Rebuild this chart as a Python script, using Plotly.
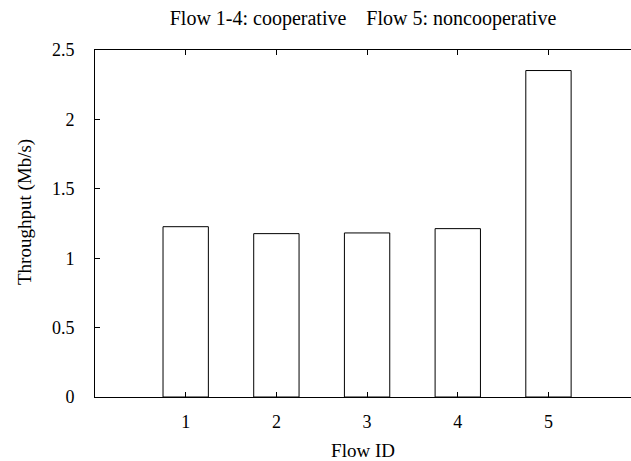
import plotly.graph_objects as go

flow_ids = [1, 2, 3, 4, 5]
throughput = [1.227, 1.177, 1.182, 1.213, 2.352]
x_ticks = [1, 2, 3, 4, 5]
y_ticks = [0, 0.5, 1, 1.5, 2, 2.5]
y_tick_labels = ["0", "0.5", "1", "1.5", "2", "2.5"]

serif = "Liberation Serif, Times New Roman, serif"

fig = go.Figure()
fig.add_trace(go.Bar(
    x=flow_ids, y=throughput, width=0.5,
    marker=dict(color="white", line=dict(color="black", width=1)),
    showlegend=False, hoverinfo="skip",
))

fig.update_layout(
    width=631, height=461,
    margin=dict(l=95, r=0, t=50, b=64, autoexpand=False),
    paper_bgcolor="white", plot_bgcolor="white",
    font=dict(family=serif, size=17, color="black"),
    title=dict(text="Flow 1-4: cooperative &nbsp;&nbsp;&nbsp;Flow 5: noncooperative",
               x=0.5, xref="paper",
               y=1 - 18 / 461, yref="container", yanchor="middle",
               font=dict(family=serif, size=20, color="black")),
    xaxis=dict(range=[0, 5.91], tickvals=x_ticks, ticktext=[str(v) for v in x_ticks],
               ticks="inside", ticklen=5, tickcolor="black", showline=True,
               linecolor="black", linewidth=1, mirror="ticks", showgrid=False,
               zeroline=False, ticklabelstandoff=8, automargin=False,
               tickfont=dict(family=serif, size=18, color="black"),
               title=dict(text="Flow ID", standoff=14,
                          font=dict(family=serif, size=19, color="black"))),
    yaxis=dict(range=[0, 2.5], tickvals=y_ticks, ticktext=y_tick_labels,
               ticks="inside", ticklen=5, tickcolor="black", showline=True,
               linecolor="black", linewidth=1, mirror=False, showgrid=False,
               zeroline=False, ticklabelstandoff=16, automargin=False,
               tickfont=dict(family=serif, size=18, color="black")),
    annotations=[dict(text="Throughput (Mb/s)", textangle=-90, showarrow=False,
                      xref="paper", yref="paper", x=(25 - 95) / 536, y=(397 - 212) / 347,
                      xanchor="center", yanchor="middle",
                      font=dict(family=serif, size=19, color="black"))],
)

fig.write_html("out.html", config={"displayModeBar": False},
               post_script="document.body.style.margin='0';document.body.style.overflow='hidden';")
